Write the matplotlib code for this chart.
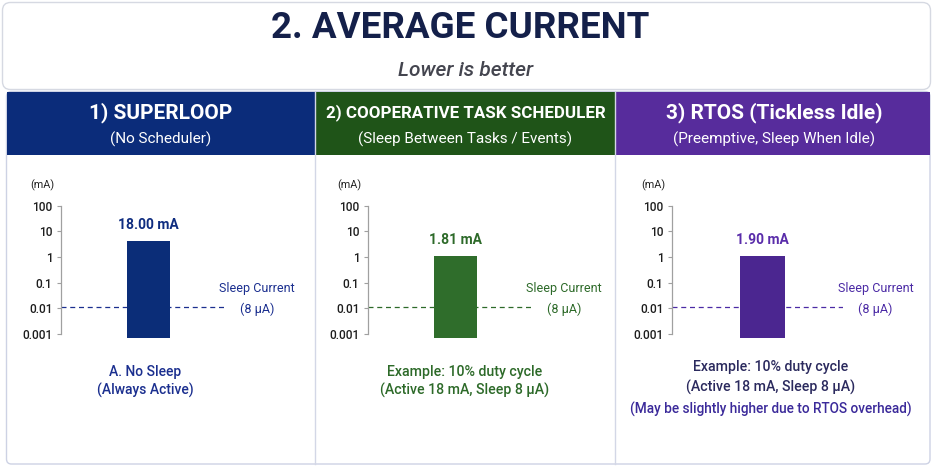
import matplotlib
matplotlib.use("Agg")
import matplotlib.pyplot as plt
from matplotlib import font_manager
from matplotlib.patches import FancyBboxPatch, Rectangle
from matplotlib.ticker import FixedLocator, FixedFormatter, NullLocator
import numpy as np

# ---------------- data ----------------
title = "2. AVERAGE CURRENT"
subtitle = "Lower is better"
panel_titles = ["1) SUPERLOOP", "2) COOPERATIVE TASK SCHEDULER", "3) RTOS (Tickless Idle)"]
panel_subtitles = ["(No Scheduler)", "(Sleep Between Tasks / Events)", "(Preemptive, Sleep When Idle)"]
value_labels = ["18.00 mA", "1.81 mA", "1.90 mA"]
bar_heights = [4.2, 1.12, 1.12]          # bar tops as drawn in the reference (mA)
sleep_level = [0.0116, 0.0116, 0.0116]   # dashed sleep-current line (mA)
sleep_text = ["Sleep Current", "(8 µA)"]
ytick_values = [100, 10, 1, 0.1, 0.01, 0.001]
ytick_labels = ["100", "10", "1", "0.1", "0.01", "0.001"]
unit_label = "(mA)"
notes = [
    ["A. No Sleep", "(Always Active)"],
    ["Example: 10% duty cycle", "(Active 18 mA, Sleep 8 µA)"],
    ["Example: 10% duty cycle", "(Active 18 mA, Sleep 8 µA)",
     "(May be slightly higher due to RTOS overhead)"],
]

# ---------------- style ----------------
names = {f.name for f in font_manager.fontManager.ttflist}
FONT = "Roboto" if "Roboto" in names else "DejaVu Sans"
plt.rcParams["font.family"] = [FONT, "DejaVu Sans"]

header_colors = ["#0b2c7a", "#1f5418", "#572c9c"]
bar_colors = ["#0b2d78", "#2f6d2b", "#4b2690"]
text_colors = ["#1b2f8f", "#2d6a29", "#4b2aa5"]
value_colors = ["#0f2d80", "#2d6a29", "#5a2daa"]
note_colors = [["#1b2f8f", "#1b2f8f"], ["#2d6a29", "#2d6a29"],
               ["#2b2a5e", "#2b2a5e", "#3b2a9a"]]

W, H = 933, 468
fig = plt.figure(figsize=(W / 100, H / 100), dpi=100)
fig.patch.set_facecolor("white")

# background layout axes in pixel units
bg = fig.add_axes([0, 0, 1, 1], zorder=0)
bg.set_xlim(0, W)
bg.set_ylim(H, 0)
bg.axis("off")

bg.add_patch(FancyBboxPatch((2.5, 2.5), 928, 87, boxstyle="round,pad=0,rounding_size=8",
                            facecolor="white", edgecolor="#d6d9e2", lw=1.0))
bg.add_patch(FancyBboxPatch((6.5, 91.5), 923.5, 372.5, boxstyle="round,pad=0,rounding_size=5",
                            facecolor="white", edgecolor="#cdd2e4", lw=1.0))
edges = [6.5, 314.7, 615.3, 929.5]
for i in range(3):
    bg.add_patch(Rectangle((edges[i], 91.5), edges[i + 1] - edges[i], 63.5,
                           facecolor=header_colors[i], edgecolor="none"))
for x in (314.7, 615.3):
    bg.plot([x, x], [91.5, 464], color="#d3d7e6", lw=1.0)

bg.text(460, 28, title, ha="center", va="center", fontsize=26.5, fontweight="bold",
        color="#14204a")
bg.text(466, 71, subtitle, ha="center", va="center", fontsize=15, style="italic",
        fontweight="medium", color="#44454f")

header_cx = [161, 465.5, 774]
header_fs = [15, 12.2, 15]
for i in range(3):
    bg.text(header_cx[i], 112.5, panel_titles[i], ha="center", va="center",
            fontsize=header_fs[i], fontweight="bold", color="white")
    bg.text(header_cx[i], 139, panel_subtitles[i], ha="center", va="center",
            fontsize=11, color="white")

# ---------------- chart axes ----------------
axis_x = [61, 368, 672]
axis_w = [165, 165, 171]
top_px, bot_px = 205.7, 337.9
ylo, yhi = 10 ** -3.15, 100.0

for i in range(3):
    ax = fig.add_axes([axis_x[i] / W, 1 - bot_px / H, axis_w[i] / W, (bot_px - top_px) / H],
                      zorder=2)
    ax.patch.set_alpha(0)
    ax.set_yscale("log")
    ax.set_ylim(ylo, yhi)
    ax.set_xlim(0, 1)
    for s in ("top", "right", "bottom"):
        ax.spines[s].set_visible(False)
    ax.spines["left"].set_color("#a0a0a0")
    ax.spines["left"].set_linewidth(0.9)
    ax.spines["left"].set_bounds(1e-3, 1e2)
    ax.yaxis.set_major_locator(FixedLocator(ytick_values))
    ax.yaxis.set_major_formatter(FixedFormatter(ytick_labels))
    ax.yaxis.set_minor_locator(NullLocator())
    ax.tick_params(axis="y", length=3, width=0.8, color="#a0a0a0", labelsize=8.6,
                   labelcolor="#1e1e1e", pad=3.2)
    for lab in ax.get_yticklabels():
        lab.set_fontweight("medium")
    ax.set_xticks([])

    ax.axhline(sleep_level[i], xmin=0, xmax=1, color=text_colors[i], lw=0.9,
               dashes=(4, 3), zorder=1)
    ax.bar([0.53], [bar_heights[i] - ylo], bottom=ylo, width=0.26,
           color=bar_colors[i], zorder=3)
    ax.annotate(value_labels[i], xy=(0.53, bar_heights[i]), xytext=(0, 11.5),
                textcoords="offset points", ha="center", va="center", fontsize=10,
                fontweight="bold", color=value_colors[i], annotation_clip=False)
    ax.annotate(sleep_text[0], xy=(1.19, sleep_level[i]), xytext=(0, 13),
                textcoords="offset points", ha="center", va="center", fontsize=9,
                color=text_colors[i], annotation_clip=False)
    ax.annotate(sleep_text[1], xy=(1.19, sleep_level[i]), xytext=(0, -1.5),
                textcoords="offset points", ha="center", va="center", fontsize=9,
                color=text_colors[i], annotation_clip=False)
    ax.annotate(unit_label, xy=(0, 1), xycoords="axes fraction", xytext=(-13.5, 15),
                textcoords="offset points", ha="center", va="center", fontsize=7.8,
                color="#222222", annotation_clip=False)

# ---------------- notes ----------------
note_pos = [
    [(145, 372), (145, 390)],
    [(464.5, 372), (464.5, 390.7)],
    [(770.7, 366.7), (770.7, 387.7), (770.7, 409.3)],
]
note_fs = [[10, 10], [10.2, 10.2], [10.2, 10.2, 9.8]]
for i in range(3):
    for j, line in enumerate(notes[i]):
        x, y = note_pos[i][j]
        bg.text(x, y, line, ha="center", va="center", fontsize=note_fs[i][j],
                fontweight="medium", color=note_colors[i][j])

fig.savefig("out.png", dpi=100)
